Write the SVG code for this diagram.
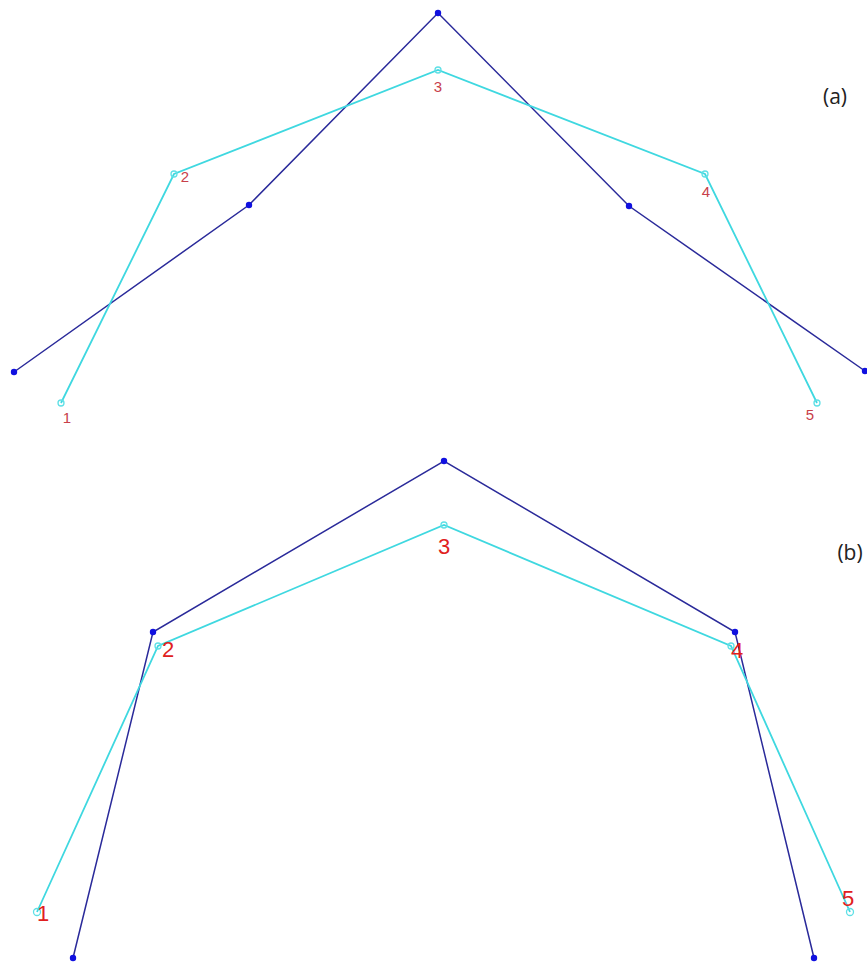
<svg xmlns="http://www.w3.org/2000/svg" width="867" height="965" viewBox="0 0 867 965">
<style>
.bg{fill:#ffffff}
.dark{fill:none;stroke:#2a2a9a;stroke-width:1.5}
.cyan{fill:none;stroke:#3fd8e0;stroke-width:1.8}
.dot{fill:#1010e0}
.open{fill:none;stroke:#5fe0e6;stroke-width:1.3}
.la{font-family:"Liberation Sans",Arial,sans-serif;font-size:15px;fill:#c8404a;text-anchor:middle}
.lb{font-family:"Liberation Sans",Arial,sans-serif;font-size:22px;fill:#e02020;text-anchor:middle}
.tag{font-family:"Open Sans","Liberation Sans",sans-serif;font-size:21px;fill:#222;text-anchor:middle}
</style>
<rect class="bg" x="0" y="0" width="867" height="965"/>
<g id="connectors">
<polyline class="dark" points="14,372 249,205 438,13 629,206 865,371"/>
<polyline class="cyan" points="61,403 174,174 438,70 705,174 817,403"/>
<polyline class="dark" points="73,958 153,632 444,461 735,632 814,958"/>
<polyline class="cyan" points="37,912 158,646 444,525 731,646 850,912"/>
</g>
<g id="panel-a">
<g id="a-dark-points">
<circle class="dot" cx="14" cy="372" r="3.2"/>
<circle class="dot" cx="249" cy="205" r="3.2"/>
<circle class="dot" cx="438" cy="13" r="3.2"/>
<circle class="dot" cx="629" cy="206" r="3.2"/>
<circle class="dot" cx="865" cy="371" r="3.2"/>
</g>
<g id="a-p1"><circle class="open" cx="61" cy="403" r="3"/><text class="la" x="67" y="423">1</text></g>
<g id="a-p2"><circle class="open" cx="174" cy="174" r="3"/><text class="la" x="185" y="182">2</text></g>
<g id="a-p3"><circle class="open" cx="438" cy="70" r="3"/><text class="la" x="438" y="92">3</text></g>
<g id="a-p4"><circle class="open" cx="705" cy="174" r="3"/><text class="la" x="706" y="197">4</text></g>
<g id="a-p5"><circle class="open" cx="817" cy="403" r="3"/><text class="la" x="810" y="420">5</text></g>
<g id="a-label"><text class="tag" x="835" y="104">(a)</text></g>
</g>
<g id="panel-b">
<g id="b-dark-points">
<circle class="dot" cx="73" cy="958" r="3.2"/>
<circle class="dot" cx="153" cy="632" r="3.2"/>
<circle class="dot" cx="444" cy="461" r="3.2"/>
<circle class="dot" cx="735" cy="632" r="3.2"/>
<circle class="dot" cx="814" cy="958" r="3.2"/>
</g>
<g id="b-p1"><circle class="open" cx="37" cy="912" r="3.5"/><text class="lb" x="43" y="921">1</text></g>
<g id="b-p2"><circle class="open" cx="158" cy="646" r="3"/><text class="lb" x="168" y="657">2</text></g>
<g id="b-p3"><circle class="open" cx="444" cy="525" r="3"/><text class="lb" x="444" y="554">3</text></g>
<g id="b-p4"><circle class="open" cx="731" cy="646" r="3"/><text class="lb" x="737" y="658">4</text></g>
<g id="b-p5"><circle class="open" cx="850" cy="912" r="3.5"/><text class="lb" x="848" y="906">5</text></g>
<g id="b-label"><text class="tag" x="850" y="560">(b)</text></g>
</g>
</svg>
